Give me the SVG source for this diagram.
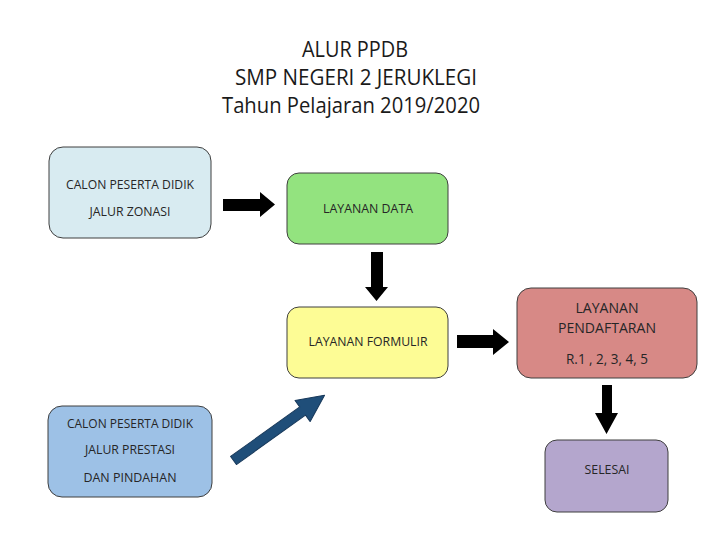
<svg xmlns="http://www.w3.org/2000/svg" width="710" height="549" viewBox="0 0 710 549">
<style>
.box{stroke:#3f3f3f;stroke-width:1}
.t{font-family:"Open Sans","Noto Sans","DejaVu Sans",sans-serif;fill:#262626;text-anchor:middle}
.s{font-size:13px}
.m{font-size:14px}
.title{font-family:"Open Sans","Noto Sans","DejaVu Sans",sans-serif;font-size:21px;fill:#1a1a1a;text-anchor:middle}
.arr{fill:#000}
</style>
<rect width="710" height="549" fill="#fff"/>
<g id="title">
<text class="title" x="355" y="57" textLength="106" lengthAdjust="spacingAndGlyphs">ALUR PPDB</text>
<text class="title" x="356" y="85" textLength="242" lengthAdjust="spacingAndGlyphs">SMP NEGERI 2 JERUKLEGI</text>
<text class="title" x="351" y="113" textLength="258" lengthAdjust="spacingAndGlyphs">Tahun Pelajaran 2019/2020</text>
</g>
<g id="node-zonasi">
<rect class="box" x="49" y="147" width="162" height="91" rx="14" fill="#d8ebf1"/>
<text class="t s" x="130" y="189" textLength="128" lengthAdjust="spacingAndGlyphs">CALON PESERTA DIDIK</text>
<text class="t s" x="130" y="216" textLength="81" lengthAdjust="spacingAndGlyphs">JALUR ZONASI</text>
</g>
<g id="node-data">
<rect class="box" x="287" y="173" width="161" height="71" rx="12" fill="#93e37f"/>
<text class="t s" x="368" y="213" textLength="90" lengthAdjust="spacingAndGlyphs">LAYANAN DATA</text>
</g>
<g id="node-formulir">
<rect class="box" x="287" y="307" width="161" height="71" rx="12" fill="#fdfc95"/>
<text class="t s" x="368" y="346" textLength="119" lengthAdjust="spacingAndGlyphs">LAYANAN FORMULIR</text>
</g>
<g id="node-pendaftaran">
<rect class="box" x="517" y="288" width="180" height="90" rx="14" fill="#d78986"/>
<text class="t m" x="607" y="313" textLength="63" lengthAdjust="spacingAndGlyphs">LAYANAN</text>
<text class="t m" x="607" y="333" textLength="98" lengthAdjust="spacingAndGlyphs">PENDAFTARAN</text>
<text class="t m" x="607" y="364" textLength="82" lengthAdjust="spacingAndGlyphs">R.1 , 2, 3, 4, 5</text>
</g>
<g id="node-prestasi">
<rect class="box" x="48" y="406" width="164" height="91" rx="14" fill="#9dc1e6"/>
<text class="t s" x="130" y="428" textLength="126" lengthAdjust="spacingAndGlyphs">CALON PESERTA DIDIK</text>
<text class="t s" x="130" y="454" textLength="90" lengthAdjust="spacingAndGlyphs">JALUR PRESTASI</text>
<text class="t s" x="130" y="482" textLength="93" lengthAdjust="spacingAndGlyphs">DAN PINDAHAN</text>
</g>
<g id="node-selesai">
<rect class="box" x="545" y="440" width="123" height="72" rx="12" fill="#b4a6cd"/>
<text class="t s" x="607" y="474" textLength="45" lengthAdjust="spacingAndGlyphs">SELESAI</text>
</g>
<g id="connectors">
<polygon class="arr" points="223,199 260,199 260,192 275,204.5 260,217 260,211 223,211"/>
<polygon class="arr" points="371,252 383,252 383,287 388,287 376.5,301 365,287 371,287"/>
<polygon class="arr" points="457,335 493,335 493,329 509,342 493,355 493,348 457,348"/>
<polygon class="arr" points="602,385 612,385 612,413 618,413 606.5,434 595,413 602,413"/>
<polygon points="0,-5 85,-5 85,-13 112,0 85,13 85,5 0,5" fill="#1f4e79" stroke="#17385a" stroke-width="1" stroke-linejoin="round" transform="translate(233.5,460.5) rotate(-35.6)"/>
</g>
</svg>
